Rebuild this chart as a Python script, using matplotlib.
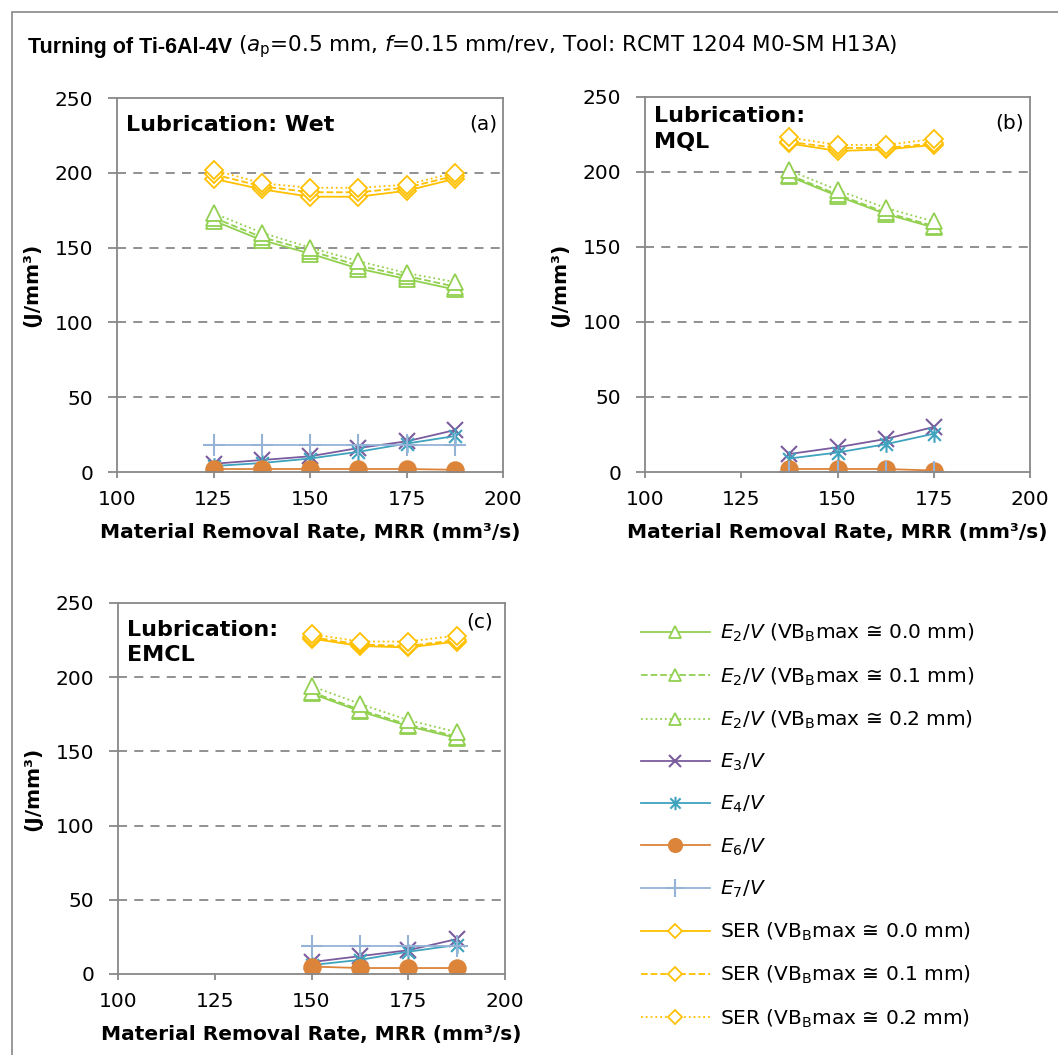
import matplotlib.pyplot as plt
from matplotlib.path import Path
from matplotlib.patches import Rectangle

plt.rcParams['font.family'] = ['DejaVu Sans']
plt.rcParams['mathtext.fontset'] = 'dejavusans'

# ---------------------------------------------------------
# data
# ---------------------------------------------------------
mrr_wet = [125, 137.5, 150, 162.5, 175, 187.5]
e2_00_wet = [168, 155, 146, 136, 129, 122]
e2_01_wet = [170, 157, 148, 138, 131, 124]
e2_02_wet = [173, 160, 150, 141, 133, 127]
e3_wet = [5.5, 8, 10.5, 16, 20.5, 28]
e4_wet = [4, 6, 9, 13.5, 19, 24]
e6_wet = [2, 2, 2, 2, 2, 1.5]
e7_wet = [18, 18, 18, 18, 18, 18]
ser_00_wet = [196, 189, 184, 184, 188, 196]
ser_01_wet = [199, 191, 187, 187, 190, 198]
ser_02_wet = [202, 193, 190, 190, 192, 200]

mrr_mql = [137.5, 150, 162.5, 175]
e2_00_mql = [197, 184, 172, 163]
e2_01_mql = [198, 185, 173, 164]
e2_02_mql = [201, 188, 176, 167]
e3_mql = [12, 16.5, 22, 30]
e4_mql = [9, 13, 18.5, 25.5]
e6_mql = [2, 2, 2, 1]
e7_mql = [0, 0, 0, 0]
ser_00_mql = [219, 214, 215, 218]
ser_01_mql = [220, 216, 216, 219]
ser_02_mql = [223, 218, 218, 222]

mrr_emcl = [150, 162.5, 175, 187.5]
e2_00_emcl = [189, 177, 167, 159]
e2_01_emcl = [190, 178, 168, 160]
e2_02_emcl = [194, 182, 171, 163]
e3_emcl = [8, 12, 16, 23.5]
e4_emcl = [6, 9.5, 15, 19.5]
e6_emcl = [5, 4, 4, 4]
e7_emcl = [19, 19, 19, 19]
ser_00_emcl = [226, 221, 220, 224]
ser_01_emcl = [227, 222, 221, 225]
ser_02_emcl = [229, 224, 224, 228]

labels = [
    r"$E_2/V$ (VB$_\mathrm{B}$max ≅ 0.0 mm)",
    r"$E_2/V$ (VB$_\mathrm{B}$max ≅ 0.1 mm)",
    r"$E_2/V$ (VB$_\mathrm{B}$max ≅ 0.2 mm)",
    r"$E_3/V$",
    r"$E_4/V$",
    r"$E_6/V$",
    r"$E_7/V$",
    r"SER (VB$_\mathrm{B}$max ≅ 0.0 mm)",
    r"SER (VB$_\mathrm{B}$max ≅ 0.1 mm)",
    r"SER (VB$_\mathrm{B}$max ≅ 0.2 mm)",
]

# asterisk marker like Excel (x with a vertical bar)
asterisk = Path([(-1, -1), (1, 1), (-1, 1), (1, -1), (0, -1.3), (0, 1.3)],
                [Path.MOVETO, Path.LINETO] * 3)

GREEN = "#92D050"
PURPLE = "#7A5C9E"
TEAL = "#3FA3BE"
ORANGE = "#DC843A"
LBLUE = "#95B3D7"
GOLD = "#FFC000"
GRAY = "#888888"

styles = [
    dict(color=GREEN, ls="-", marker="^", ms=11, mfc="white"),
    dict(color=GREEN, ls="--", marker="^", ms=11, mfc="white"),
    dict(color=GREEN, ls=":", marker="^", ms=11, mfc="white"),
    dict(color=PURPLE, ls="-", marker="x", ms=11, mew=1.5),
    dict(color=TEAL, ls="-", marker=asterisk, ms=12, mfc="none", mew=1.5),
    dict(color=ORANGE, ls="-", marker="o", ms=12),
    dict(color=LBLUE, ls="-", marker="+", ms=16, mew=1.5),
    dict(color=GOLD, ls="-", marker="D", ms=9, mfc="white"),
    dict(color=GOLD, ls="--", marker="D", ms=9, mfc="white"),
    dict(color=GOLD, ls=":", marker="D", ms=9, mfc="white"),
]


def draw_panel(ax, x, series, title, title_y, tag, tag_xy):
    handles = []
    for y, st, lab in zip(series, styles, labels):
        st = dict(st)
        h, = ax.plot(x, y, lw=1.3, mew=st.pop("mew", 1.3), label=lab, **st)
        handles.append(h)
    ax.set_xlim(100, 200)
    ax.set_ylim(0, 250)
    ax.set_xticks([100, 125, 150, 175, 200])
    ax.set_yticks([0, 50, 100, 150, 200, 250])
    for v in [50, 100, 150, 200]:
        ax.axhline(v, color=GRAY, ls=(0, (5, 4)), lw=1.3, zorder=0)
    for s in ax.spines.values():
        s.set_color(GRAY)
        s.set_linewidth(1.3)
    ax.tick_params(colors=GRAY, labelcolor="black", labelsize=14.5,
                   width=1.3, direction="out")
    ax.tick_params(axis="x", length=4, pad=9)
    ax.tick_params(axis="y", length=6.5, pad=10.5)
    ax.set_xlabel("Material Removal Rate, MRR (mm³/s)", fontsize=14.5,
                  fontweight="bold", labelpad=10)
    ax.set_ylabel("(J/mm³)", fontsize=14.5, fontweight="bold", labelpad=10)
    ax.text(0.024, title_y, title, transform=ax.transAxes, fontsize=16,
            fontweight="bold", va="top", ha="left", linespacing=1.35)
    ax.text(tag_xy[0], tag_xy[1], tag, transform=ax.transAxes, fontsize=14.5,
            va="top", ha="right")
    return handles


fig = plt.figure(figsize=(10.58, 10.55), dpi=100)

fig.patches.append(Rectangle((12 / 1058, -0.1), 1.2, 1 - 12 / 1055 + 0.1,
                             transform=fig.transFigure, fill=False,
                             edgecolor=GRAY, lw=1.2))

ax_a = fig.add_axes([117 / 1058, 0.5526, 386 / 1058, 0.3545])
ax_b = fig.add_axes([645 / 1058, 0.5526, 385 / 1058, 0.3555])
ax_c = fig.add_axes([118 / 1058, 0.0768, 387 / 1058, 0.3517])

handles = draw_panel(ax_a, mrr_wet,
                     [e2_00_wet, e2_01_wet, e2_02_wet, e3_wet, e4_wet, e6_wet,
                      e7_wet, ser_00_wet, ser_01_wet, ser_02_wet],
                     "Lubrication: Wet", 0.955, "(a)", (0.985, 0.955))
draw_panel(ax_b, mrr_mql,
           [e2_00_mql, e2_01_mql, e2_02_mql, e3_mql, e4_mql, e6_mql,
            e7_mql, ser_00_mql, ser_01_mql, ser_02_mql],
           "Lubrication:\nMQL", 0.975, "(b)", (0.985, 0.955))
draw_panel(ax_c, mrr_emcl,
           [e2_00_emcl, e2_01_emcl, e2_02_emcl, e3_emcl, e4_emcl, e6_emcl,
            e7_emcl, ser_00_emcl, ser_01_emcl, ser_02_emcl],
           "Lubrication:\nEMCL", 0.955, "(c)", (0.97, 0.975))

fig.legend(handles=handles, loc="upper left",
           bbox_to_anchor=(623 / 1058, 1 - 604 / 1055), frameon=False,
           fontsize=14.5, handlelength=3.4, handletextpad=0.5,
           labelspacing=1.04, markerscale=0.8)

# title: bold part followed by the normal part
t1 = fig.text(28 / 1058, 1 - 47 / 1055, "Turning of Ti-6Al-4V", fontsize=15.5,
              fontweight="bold", family=["Liberation Sans", "DejaVu Sans"],
              va="center", ha="left")
fig.canvas.draw()
bb = t1.get_window_extent()
fig.text((bb.x1 + 6) / 1058, 1 - 47 / 1055,
         r"($a_\mathrm{p}$=0.5 mm, $f$=0.15 mm/rev, Tool: RCMT 1204 M0-SM H13A)",
         fontsize=15.5, va="center", ha="left")

plt.savefig("out.png", dpi=100)
plt.close()
